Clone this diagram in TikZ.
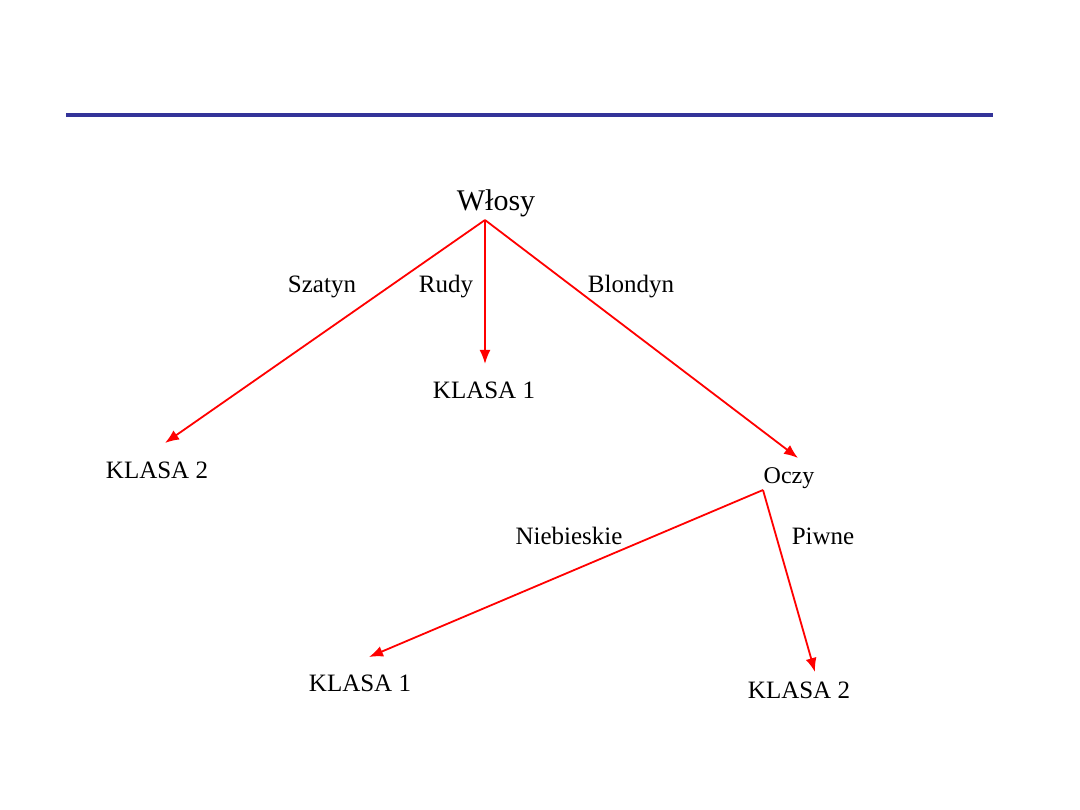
\documentclass[tikz,border=0pt]{standalone}
\usepackage{fontspec}
\setmainfont{Liberation Serif}
\usetikzlibrary{arrows.meta}
\begin{document}
\begin{tikzpicture}[x=1pt,y=-1pt,
  lbl/.style={inner sep=0pt,font=\fontsize{25}{28}\selectfont},
  cls/.style={inner sep=0pt,font=\fontsize{25}{28}\selectfont},
  edge/.style={draw=red,line width=1.8pt,-{Latex[length=14pt,width=11pt]}}]
\useasboundingbox[fill=white] (0,0) rectangle (1080,810);
\fill[fill={rgb,255:red,51;green,51;blue,153}] (66,113) rectangle (993,117.5);
\node[inner sep=0pt,font=\fontsize{30}{34}\selectfont] (wlosy) at (496,203) {Włosy};
\coordinate (root) at (485,220);
\node[cls] (k2a) at (157,470) {KLASA 2};
\node[cls] (k1a) at (484,390) {KLASA 1};
\node[lbl,font=\fontsize{24}{28}\selectfont] (oczy) at (789,478) {Oczy};
\node[cls] (k1b) at (360,683) {KLASA 1};
\node[cls] (k2b) at (799,690) {KLASA 2};
\coordinate (t1) at (165,443);
\coordinate (t2) at (485,364);
\coordinate (t3) at (798,458);
\coordinate (oroot) at (763,490);
\coordinate (t4) at (369,657);
\coordinate (t5) at (815,672);
\draw[edge] (root) -- (t1);
\draw[edge] (root) -- (t2);
\draw[edge] (root) -- (t3);
\draw[edge] (oroot) -- (t4);
\draw[edge] (oroot) -- (t5);
\node[lbl] (szatyn) at (322,287) {Szatyn};
\node[lbl] (rudy) at (446,287) {Rudy};
\node[lbl] (blondyn) at (631,287) {Blondyn};
\node[lbl] (nieb) at (569,536) {Niebieskie};
\node[lbl] (piwne) at (823,536) {Piwne};
\end{tikzpicture}
\end{document}
